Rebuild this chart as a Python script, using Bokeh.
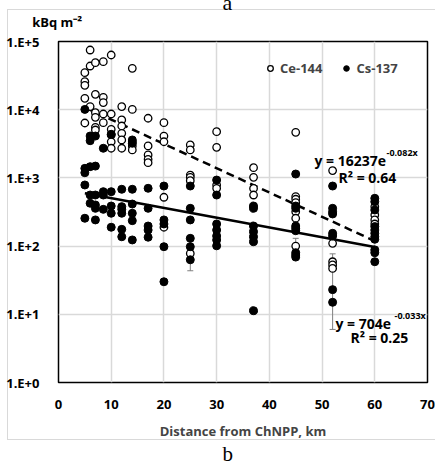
import numpy as np
from bokeh.plotting import figure
from bokeh.models import (Range1d, FixedTicker, CustomJSTickFormatter, Label, Legend,
                          LegendItem, Whisker, TeeHead, ColumnDataSource, Title)
from bokeh.embed import file_html
from bokeh.resources import INLINE

# ---------------- data ----------------
ce_dist = ([5] * 5 + [6] * 3 + [7] * 6 + [8.5] * 5 + [10] * 6 + [12] * 6 + [14] * 5 +
           [17] * 5 + [20] * 5 + [25] * 6 + [30] * 4 + [37] * 4 + [45] * 7 + [52] * 5 + [60] * 4)
ce_kbq = [34900, 25800, 22800, 14700, 6380,
          75000, 43700, 11100,
          48900, 16800, 9040, 7740, 5520, 5040,
          50600, 15200, 12700, 8650, 6450,
          63400, 8650, 5160, 4260, 3390, 2720,
          11100, 7070, 5770, 4510, 3600, 2720,
          40400, 10100, 3390, 2940, 2570,
          7490, 2940, 2170, 1870, 1670,
          6450, 4110, 3390, 520, 189,
          3040, 2570, 1100, 1020, 910, 78,
          4760, 2810, 787, 704,
          1410, 1020, 700, 561,
          4660, 530, 486, 433, 319, 256, 100,
          1280, 110, 59, 53, 47,
          379, 286, 242, 211]

cs_dist = ([5] * 5 + [6] * 5 + [7] * 6 + [8.5] * 4 + [10] * 5 + [12] * 6 + [14] * 7 +
           [17] * 5 + [20] * 5 + [25] * 6 + [30] * 7 + [37] * 7 + [45] * 9 + [52] * 8 + [60] * 11)
cs_kbq = [10100, 1380, 1190, 787, 256,
          4110, 3510, 1460, 561, 425,
          4110, 1490, 561, 401, 358, 242,
          2720, 628, 561, 346,
          4360, 628, 387, 303, 189,
          681, 379, 346, 303, 176, 137,
          3600, 3220, 681, 414, 303, 236, 123,
          704, 358, 197, 172, 135,
          760, 242, 211, 98, 30,
          760, 358, 242, 130, 98, 63,
          930, 561, 211, 172, 141, 123, 101,
          387, 358, 197, 163, 137, 116, 11.3,
          1140, 387, 358, 197, 183, 168, 80, 74, 69,
          760, 358, 319, 296, 154, 141, 23, 15,
          502, 448, 338, 193, 172, 154, 137, 126, 88, 80, 59]

# error bars (Ce-144)
err_dist = [25, 45, 52]
err_low = [43.5, 74, 6.0]
err_high = [98, 130, 77]

# exponential trend lines  y = a * exp(b x)
ce_a, ce_b = 16237, -0.082
cs_a, cs_b = 704, -0.033
trend_x = np.array([5, 60])

x_ticks = [0, 10, 20, 30, 40, 50, 60, 70]
y_ticks = [1, 10, 100, 1000, 10000, 100000]

FONT = "Open Sans"
FL, FB = 58, 382  # frame left / bottom in canvas px (for screen-unit labels)

p = figure(width=435, height=464, output_backend="svg", toolbar_location=None,
           x_range=Range1d(0, 70), y_range=Range1d(1, 1e5), y_axis_type="log",
           min_border_left=58, min_border_right=8, min_border_top=41, min_border_bottom=82)
p.background_fill_color = "white"
p.border_fill_alpha = 0
p.outline_line_color = "black"
p.outline_line_width = 1.5
# faint outer chart border (drawn behind the transparent canvas border area)
p.styles = {
    "background-color": "white",
    "background-image": ("linear-gradient(#d9d9d9,#d9d9d9), linear-gradient(#d9d9d9,#d9d9d9),"
                         " linear-gradient(#d9d9d9,#d9d9d9)"),
    "background-repeat": "no-repeat",
    "background-size": "1px 430px, 440px 1px, 440px 1px",
    "background-position": "7px 9px, 7px 9px, 7px 439px",
}

# axes
p.xaxis.ticker = FixedTicker(ticks=x_ticks, minor_ticks=[])
p.yaxis.ticker = FixedTicker(ticks=y_ticks, minor_ticks=[])
p.yaxis.formatter = CustomJSTickFormatter(code="return '1.E+' + Math.round(Math.log10(tick));")
for ax in (p.xaxis, p.yaxis):
    ax.axis_line_color = None
    ax.major_tick_line_color = None
    ax.minor_tick_line_color = None
    ax.major_label_text_font = FONT
    ax.major_label_text_font_style = "bold"
    ax.major_label_text_font_size = "13px"
    ax.major_label_text_color = "black"
p.xaxis.major_label_standoff = 11
p.yaxis.major_label_standoff = 13
p.xaxis.axis_label = "Distance from ChNPP, km"
p.xaxis.axis_label_text_font = FONT
p.xaxis.axis_label_text_font_style = "bold"
p.xaxis.axis_label_text_font_size = "13px"
p.xaxis.axis_label_standoff = 10

p.xgrid.grid_line_color = "#d9d9d9"
p.ygrid.grid_line_color = "#d9d9d9"
p.xgrid.grid_line_width = 1.5
p.ygrid.grid_line_width = 1.5

# texts outside the plot area, as titles in the side panels
p.add_layout(Title(text="kBq m⁻²", align="left", offset=31.7 - FL, vertical_align="top",
                   standoff=17.0, text_font=FONT, text_font_style="bold",
                   text_font_size="13px", text_color="black"), "above")
p.add_layout(Title(text="a", align="left", offset=164, vertical_align="middle", standoff=-22.9,
                   text_font="Liberation Serif", text_font_style="normal",
                   text_font_size="22px", text_color="black"), "above")
p.add_layout(Title(text="b", align="left", offset=164, vertical_align="bottom", standoff=-3.6,
                   text_font="Liberation Serif", text_font_style="normal",
                   text_font_size="21px", text_color="black"), "below")

# error bars
esrc = ColumnDataSource(dict(x=err_dist, lo=err_low, hi=err_high))
p.add_layout(Whisker(source=esrc, base="x", lower="lo", upper="hi", dimension="height",
                     line_color="#7f7f7f", line_width=1,
                     lower_head=TeeHead(size=6, line_color="#7f7f7f", line_width=1),
                     upper_head=TeeHead(size=6, line_color="#7f7f7f", line_width=1),
                     level="underlay"))

# trend lines
p.line(trend_x, ce_a * np.exp(ce_b * trend_x), line_color="black", line_width=2.5,
       line_dash="8 5")
p.line(trend_x, cs_a * np.exp(cs_b * trend_x), line_color="black", line_width=2.5)

# points
r_ce = p.scatter(ce_dist, ce_kbq, marker="circle", size=7.5, fill_color="white",
                 line_color="black", line_width=1.3)
r_cs = p.scatter(cs_dist, cs_kbq, marker="circle", size=8, fill_color="black",
                 line_color="black", line_width=1)

legend = Legend(items=[LegendItem(label="Ce-144", renderers=[r_ce]),
                       LegendItem(label="Cs-137", renderers=[r_cs])],
                location=(263 - FL, FB - 77), orientation="horizontal",
                glyph_width=14, glyph_height=14, label_height=14, label_standoff=3,
                spacing=17, padding=0, margin=0, border_line_color=None,
                background_fill_alpha=0, label_text_font=FONT,
                label_text_font_style="bold", label_text_font_size="13px")
p.add_layout(legend)


def lab(text, cx, cy, size="13px"):
    p.add_layout(Label(x=cx - FL, y=FB - cy, x_units="screen", y_units="screen", text=text,
                       text_font=FONT, text_font_style="bold", text_font_size=size,
                       text_align="left", text_baseline="alphabetic", text_color="black"))


lab("y = 16237e", 314, 160, "14px")
lab("-0.082x", 386, 152, "9px")
lab("R² = 0.64", 338, 177, "14px")
lab("y = 704e", 335, 322.5, "14px")
lab("-0.033x", 394, 315, "9px")
lab("R² = 0.25", 350, 337, "14px")

open("out.html", "w").write(file_html(p, INLINE))
